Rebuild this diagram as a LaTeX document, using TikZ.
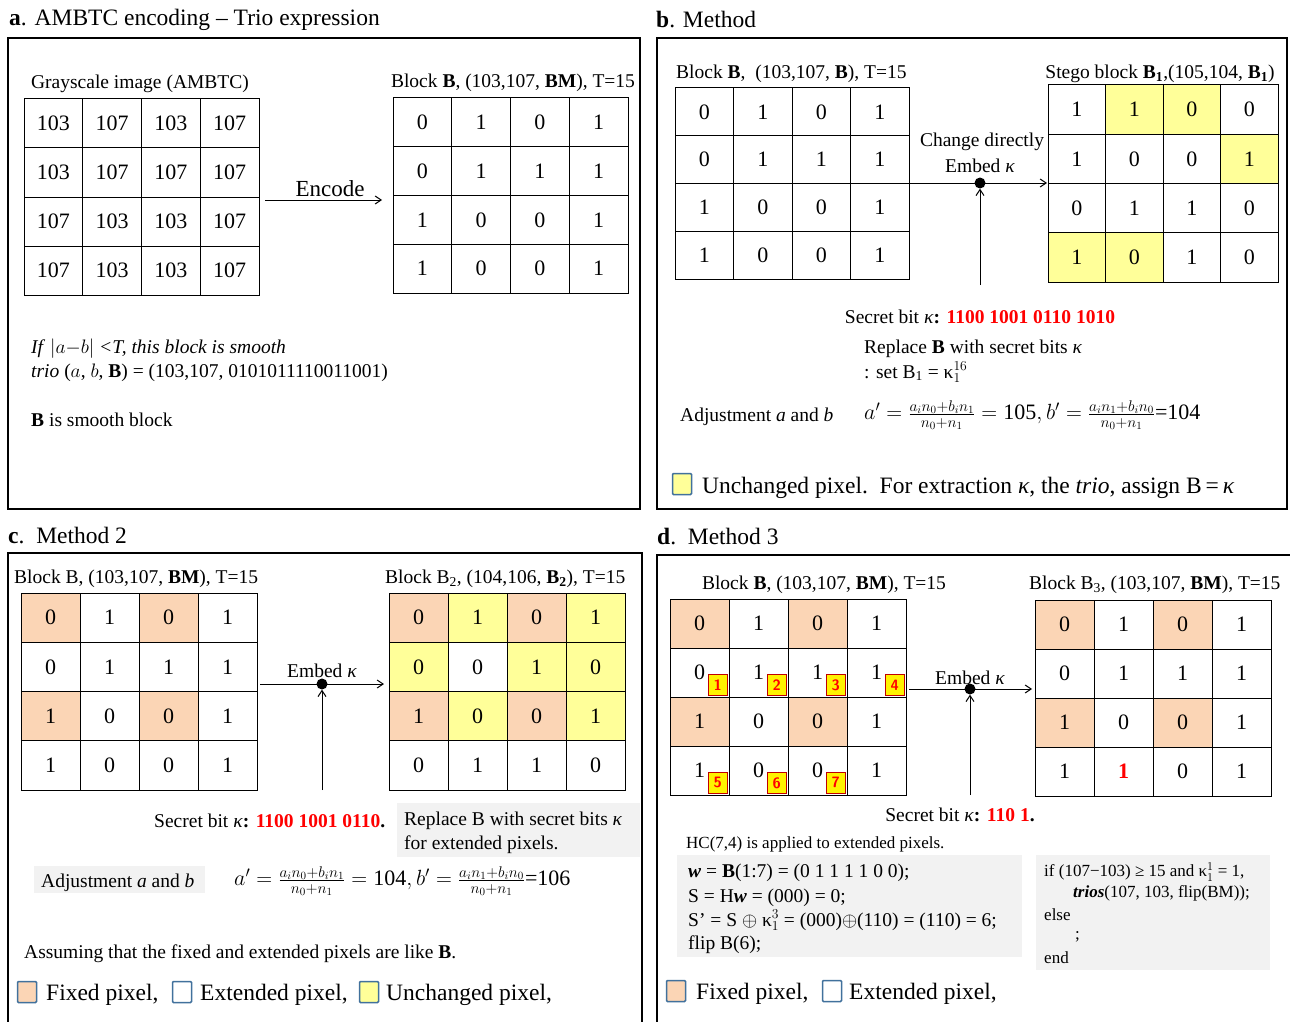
\RequirePackage{fix-cm}
\documentclass[tikz,border=0pt]{standalone}
\usepackage{fontspec}
\setmainfont{Liberation Serif}
\usetikzlibrary{arrows.meta}

\definecolor{cO}{HTML}{FBD5B5}
\definecolor{cY}{HTML}{FFFF99}
\definecolor{cW}{HTML}{FFFFFF}
\definecolor{legendedge}{HTML}{41719C}
\definecolor{boxgray}{HTML}{F2F2F2}
\definecolor{bitred}{HTML}{FF0000}
\definecolor{badgeedge}{HTML}{C00000}

\newcommand\fs[1]{\fontsize{#1pt}{#1pt}\selectfont}
\newcommand\rbit[1]{\textcolor{bitred}{\textbf{#1}}}
\newcommand\kap{\textit{κ}}
\newcommand\ukap{\mbox{κ}}

% 4x4 block of pixel cells: name, left, top, cell width, cell height, rows of fill/value
\newcommand\bitgrid[6]{%
  \foreach [count=\r from 0] \rowlist in {#6} {%
    \foreach [count=\c from 0] \f/\v in \rowlist {%
      \node[cellbox, fill=\f, minimum width=#4pt, minimum height=#5pt]
        (#1-\r-\c) at ({#2+(\c+0.5)*#4},{#3+(\r+0.5)*#5}) {\v};
    }
  }
}

\tikzset{
  panel/.style={line width=1.8pt},
  cellbox/.style={draw, line width=1pt, inner sep=0pt, font=\fs{22}},
  txt/.style={inner sep=0pt, font=\fs{19.5}, yshift=-2.5pt},
  small/.style={inner sep=0pt, font=\fs{17}, yshift=-2pt},
  title/.style={inner sep=0pt, font=\fs{23.5}, anchor=west, yshift=-3pt},
  legend/.style={inner sep=0pt, font=\fs{23.5}, anchor=west, yshift=-2.5pt},
  formula/.style={inner sep=0pt, font=\fs{22}, anchor=west, yshift=-1pt},
  legsq/.style={draw=legendedge, line width=1.5pt, minimum width=19pt,
    minimum height=21pt, inner sep=0pt, rounded corners=1pt},
  badge/.style={draw=badgeedge, line width=1.4pt, fill=yellow, text=bitred,
    font=\fs{15}\bfseries\sffamily, minimum width=19pt, minimum height=21pt,
    inner sep=0pt, anchor=south east},
  arr/.style={line width=1pt, -{Straight Barb[length=6pt,width=8pt]}},
  junction/.style={circle, fill=black, minimum size=11pt, inner sep=0pt},
  graybox/.style={fill=boxgray, draw=none},
}

\begin{document}
\begin{tikzpicture}[x=1pt,y=-1pt]
\clip (0,0) rectangle (1290,1022);
\fill[white] (0,0) rectangle (1290,1022);

% ---------------- panel a ----------------
\node[title] (ta) at (9,17) {\textbf{a}. AMBTC encoding – Trio expression};
\draw[panel] (8,38) rectangle (640,509);
\node[txt] (lga) at (140,81) {Grayscale image (AMBTC)};
\bitgrid{ga}{24}{99}{58.75}{49}{%
  {cW/103,cW/107,cW/103,cW/107},
  {cW/103,cW/107,cW/107,cW/107},
  {cW/107,cW/103,cW/103,cW/107},
  {cW/107,cW/103,cW/103,cW/107}}
\node[txt] (lba) at (513,80) {Block \textbf{B}, (103,107, \textbf{BM}), T=15};
\bitgrid{ba}{393}{98}{58.75}{48.75}{%
  {cW/0,cW/1,cW/0,cW/1},
  {cW/0,cW/1,cW/1,cW/1},
  {cW/1,cW/0,cW/0,cW/1},
  {cW/1,cW/0,cW/0,cW/1}}
\coordinate (encL) at (265,200);
\coordinate (encR) at (382,200);
\draw[arr] (encL) -- (encR);
\node[txt, font=\fs{23}] (enc) at (330,186) {Encode};
\node[txt, anchor=west] (sm1) at (31,346) {\textit{If} $|a{-}b|$ \textit{<T, this block is smooth}};
\node[txt, anchor=west] (sm2) at (31,370) {\textit{trio} ($a$, $b$, \textbf{B}) = (103,107, 0101011110011001)};
\node[txt, anchor=west] (sm3) at (31,417) {\textbf{B} is smooth block};

% ---------------- panel b ----------------
\node[title] (tb) at (656,17) {\textbf{b}. Method};
\draw[panel] (657,38) rectangle (1287,509);
\node[txt, anchor=west] (lbb) at (676,71) {Block \textbf{B},\ \ (103,107, \textbf{B}), T=15};
\bitgrid{bb}{675}{88}{58.5}{47.75}{%
  {cW/0,cW/1,cW/0,cW/1},
  {cW/0,cW/1,cW/1,cW/1},
  {cW/1,cW/0,cW/0,cW/1},
  {cW/1,cW/0,cW/0,cW/1}}
\node[txt] (lst) at (1160,71) {Stego block \textbf{B\textsubscript{1}},(105,104, \textbf{B\textsubscript{1}})};
\bitgrid{st}{1048}{85}{57.5}{49.25}{%
  {cW/1,cY/1,cY/0,cW/0},
  {cW/1,cW/0,cW/0,cY/1},
  {cW/0,cW/1,cW/1,cW/0},
  {cY/1,cY/0,cW/1,cW/0}}
\node[junction] (dotb) at (980,183) {};
\coordinate (inb) at (910,183);
\coordinate (outb) at (1047,183);
\coordinate (botb) at (980,285);
\draw[arr] (inb) -- (outb);
\draw[arr] (botb) -- (dotb);
\node[txt] (chg) at (982,139) {Change directly};
\node[txt] (embb) at (980,163) {Embed \kap};
\node[txt] (secb) at (980,314) {Secret bit \kap\textbf{:} \rbit{1100 1001 0110 1010}};
\node[txt, anchor=west] (repb1) at (864,346) {Replace \textbf{B} with secret bits \kap};
\node[txt, anchor=west] (repb2) at (864,370) {: set B\textsubscript{1} = $\ukap_1^{16}$};
\node[txt, anchor=west] (adjb) at (680,414) {Adjustment \textit{a} and \textit{b}};
\node[formula] (frmb) at (864,414)
  {$a' = \frac{a_in_0+b_in_1}{n_0+n_1} = \mbox{105}, b' = \frac{a_in_1+b_in_0}{n_0+n_1}$=104};
\node[legsq, fill=cY] (sqb) at (682,484) {};
\node[legend] (legb) at (702,485) {Unchanged pixel.\ \ For extraction \kap, the \textit{trio}, assign B\,=\,\kap};

% ---------------- panel c ----------------
\node[title] (tc) at (8,533) {\textbf{c}.\ \ Method 2};
\draw[panel] (8,1040) -- (8,553) -- (642,553) -- (642,1040);
\node[txt, anchor=west] (lbc) at (14,576) {Block B, (103,107, \textbf{BM}), T=15};
\bitgrid{bc}{21}{593}{59}{49.25}{%
  {cO/0,cW/1,cO/0,cW/1},
  {cW/0,cW/1,cW/1,cW/1},
  {cO/1,cW/0,cO/0,cW/1},
  {cW/1,cW/0,cW/0,cW/1}}
\node[txt, anchor=west] (lb2) at (385,576) {Block B\textsubscript{2}, (104,106, \textbf{B\textsubscript{2}}), T=15};
\bitgrid{b2}{389}{593}{59}{49.25}{%
  {cO/0,cY/1,cO/0,cY/1},
  {cY/0,cW/0,cY/1,cY/0},
  {cO/1,cY/0,cO/0,cY/1},
  {cW/0,cW/1,cW/1,cW/0}}
\node[junction] (dotc) at (322,684) {};
\coordinate (inc) at (260,684);
\coordinate (outc) at (384,684);
\coordinate (botc) at (322,790);
\draw[arr] (inc) -- (outc);
\draw[arr] (botc) -- (dotc);
\node[txt] (embc) at (322,668) {Embed \kap};
\node[txt, anchor=west] (secc) at (154,818) {Secret bit \kap\textbf{:} \rbit{1100 1001 0110}\textbf{.}};
\fill[graybox] (397,803) rectangle (640,857);
\node[txt, anchor=west] (repc1) at (404,818) {Replace B with secret bits \kap};
\node[txt, anchor=west] (repc2) at (404,842) {for extended pixels.};
\fill[graybox] (34,866) rectangle (205,893);
\node[txt, anchor=west] (adjc) at (41,880) {Adjustment \textit{a} and \textit{b}};
\node[formula] (frmc) at (234,880)
  {$a' = \frac{a_in_0+b_in_1}{n_0+n_1} = \mbox{104}, b' = \frac{a_in_1+b_in_0}{n_0+n_1}$=106};
\node[txt, anchor=west] (assc) at (24,951) {Assuming that the fixed and extended pixels are like \textbf{B}.};
\node[legsq, fill=cO] (sqc1) at (27,992) {};
\node[legend] (legc1) at (46,992) {Fixed pixel,};
\node[legsq, fill=white] (sqc2) at (182,992) {};
\node[legend] (legc2) at (200,992) {Extended pixel,};
\node[legsq, fill=cY] (sqc3) at (369,992) {};
\node[legend] (legc3) at (386,992) {Unchanged pixel,};

% ---------------- panel d ----------------
\node[title] (td) at (657,534) {\textbf{d}.\ \ Method 3};
\draw[panel] (657,1040) -- (657,555) -- (1300,555);
\node[txt] (lbd) at (824,582) {Block \textbf{B}, (103,107, \textbf{BM}), T=15};
\bitgrid{bd}{670}{599}{59}{49}{%
  {cO/0,cW/1,cO/0,cW/1},
  {cW/0,cW/1,cW/1,cW/1},
  {cO/1,cW/0,cO/0,cW/1},
  {cW/1,cW/0,cW/0,cW/1}}
\node[badge] (k1) at ([shift={(-1.5,-1.5)}]bd-1-0.south east) {1};
\node[badge] (k2) at ([shift={(-1.5,-1.5)}]bd-1-1.south east) {2};
\node[badge] (k3) at ([shift={(-1.5,-1.5)}]bd-1-2.south east) {3};
\node[badge] (k4) at ([shift={(-1.5,-1.5)}]bd-1-3.south east) {4};
\node[badge] (k5) at ([shift={(-1.5,-1.5)}]bd-3-0.south east) {5};
\node[badge] (k6) at ([shift={(-1.5,-1.5)}]bd-3-1.south east) {6};
\node[badge] (k7) at ([shift={(-1.5,-1.5)}]bd-3-2.south east) {7};
\node[txt, anchor=west] (lb3) at (1029,582) {Block B\textsubscript{3}, (103,107, \textbf{BM}), T=15};
\bitgrid{b3}{1035}{600}{59}{49}{%
  {cO/0,cW/1,cO/0,cW/1},
  {cW/0,cW/1,cW/1,cW/1},
  {cO/1,cW/0,cO/0,cW/1},
  {cW/1,cW/{\rbit{1}},cW/0,cW/1}}
\node[junction] (dotd) at (970,689) {};
\coordinate (ind) at (909,689);
\coordinate (outd) at (1032,689);
\coordinate (botd) at (970,795);
\draw[arr] (ind) -- (outd);
\draw[arr] (botd) -- (dotd);
\node[txt] (embd) at (970,675) {Embed \kap};
\node[txt] (secd) at (960,812) {Secret bit \kap\textbf{:} \rbit{110 1}\textbf{.}};
\node[small, anchor=west] (hcd) at (686,842) {HC(7,4) is applied to extended pixels.};
\fill[graybox] (677,855) rectangle (1022,957);
\node[txt, anchor=west] (w1) at (688,870) {\textbf{\textit{w}} = \textbf{B}(1:7) = (0 1 1 1 1 0 0);};
\node[txt, anchor=west] (w2) at (688,895) {S = H\textbf{\textit{w}} = (000) = 0;};
\node[txt, anchor=west] (w3) at (688,918) {S’ = S $\oplus$ $\ukap_1^3$ = (000)$\oplus$(110) = (110) = 6;};
\node[txt, anchor=west] (w4) at (688,942) {flip B(6);};
\fill[graybox] (1036,855) rectangle (1270,970);
\node[small, anchor=west] (c1) at (1044,870) {if (107−103) ≥ 15 and $\ukap_1^1$ = 1,};
\node[small, anchor=west] (c2) at (1073,891) {\textbf{\textit{trios}}(107, 103, flip(BM));};
\node[small, anchor=west] (c3) at (1044,913) {else};
\node[small, anchor=west] (c4) at (1075,935) {;};
\node[small, anchor=west] (c5) at (1044,956) {end};
\node[legsq, fill=cO] (sqd1) at (676,991) {};
\node[legend] (legd1) at (696,991) {Fixed pixel,};
\node[legsq, fill=white] (sqd2) at (832,991) {};
\node[legend] (legd2) at (849,991) {Extended pixel,};
\end{tikzpicture}
\end{document}
